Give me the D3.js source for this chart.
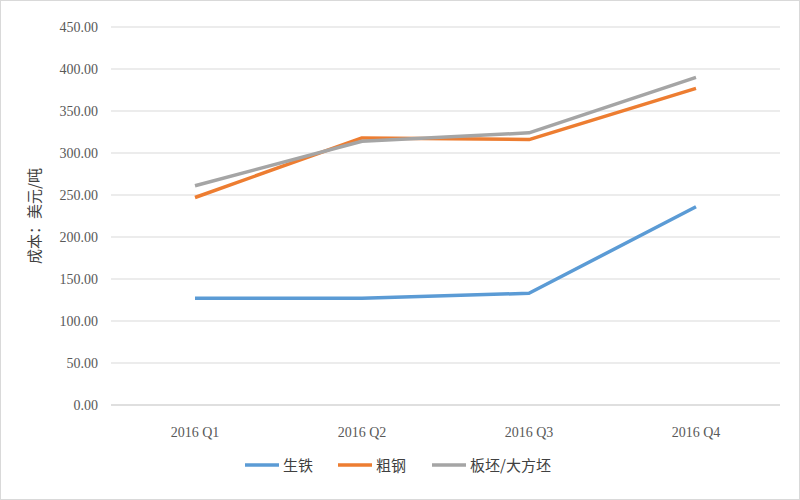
<!DOCTYPE html>
<html><head><meta charset="utf-8">
<style>body{margin:0;background:#fff}</style></head>
<body>
<svg width="800" height="500"></svg>
<script src="https://cdn.jsdelivr.net/npm/d3@7"></script>
<script>
var categories = ["2016 Q1", "2016 Q2", "2016 Q3", "2016 Q4"];
var pigIron = [127, 127, 133, 236];
var crudeSteel = [247, 318, 316, 377];
var slab = [261, 314, 324, 390];
var yTicks = [0, 50, 100, 150, 200, 250, 300, 350, 400, 450];
var seriesNames = ["生铁", "粗钢", "板坯/大方坯"];
var colors = ["#5b9bd5", "#ed7d31", "#a5a5a5"];

var svg = d3.select("svg");
var x = d3.scalePoint().domain(categories).range([195, 696]).padding(0);
var y = d3.scaleLinear().domain([0, 450]).range([405, 27]);

svg.append("rect").attr("x", 0.5).attr("y", 0.5).attr("width", 799).attr("height", 499)
  .attr("fill", "none").attr("stroke", "#d9d9d9");

var grid = svg.append("g");
grid.selectAll("line").data(yTicks).enter().append("line")
  .attr("x1", 111).attr("x2", 780)
  .attr("y1", function(d) { return y(d); }).attr("y2", function(d) { return y(d); })
  .attr("stroke", function(d) { return d === 0 ? "#bfbfbf" : "#d9d9d9"; });

svg.append("g").selectAll("text").data(yTicks).enter().append("text")
  .attr("x", 98).attr("y", function(d) { return y(d) + 5; })
  .attr("text-anchor", "end").attr("font-family", "Liberation Serif").attr("font-size", 14)
  .attr("fill", "#595959").text(function(d) { return d.toFixed(2); });

svg.append("g").selectAll("text").data(categories).enter().append("text")
  .attr("x", function(d) { return x(d); }).attr("y", 437)
  .attr("text-anchor", "middle").attr("font-family", "Liberation Serif").attr("font-size", 14)
  .attr("fill", "#595959").text(function(d) { return d; });

svg.append("text").attr("transform", "translate(40,216) rotate(-90)")
  .attr("text-anchor", "middle").attr("font-family", "Noto Sans CJK SC").attr("font-size", 15)
  .attr("fill", "#404040").text("成本：美元/吨");

var line = d3.line().x(function(d, i) { return x(categories[i]); }).y(function(d) { return y(d); });
[pigIron, crudeSteel, slab].forEach(function(s, i) {
  svg.append("path").datum(s).attr("d", line).attr("fill", "none")
    .attr("stroke", colors[i]).attr("stroke-width", 3.5).attr("stroke-linejoin", "round");
});

var lx = [245, 338, 432];
var leg = svg.append("g").selectAll("g").data(seriesNames).enter().append("g")
  .attr("transform", function(d, i) { return "translate(" + lx[i] + ",465)"; });
leg.append("line").attr("x1", 0).attr("x2", 34).attr("stroke-width", 3.5)
  .attr("stroke", function(d, i) { return colors[i]; });
leg.append("text").attr("x", 38).attr("y", 6).attr("font-family", "Noto Sans CJK SC")
  .attr("font-size", 15).attr("fill", "#404040").text(function(d) { return d; });
</script>
</body></html>
